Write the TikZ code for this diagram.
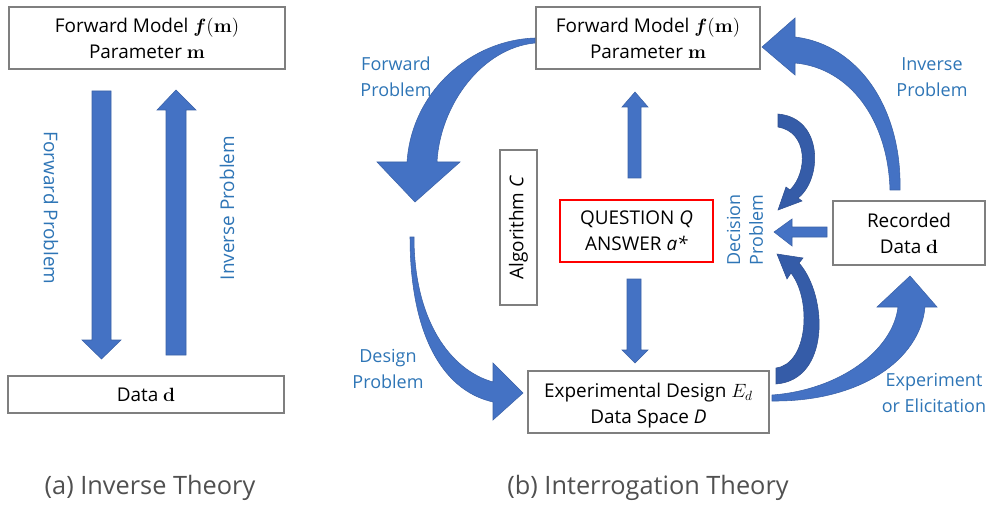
\documentclass[tikz,border=0pt]{standalone}
\usepackage{amsmath}
\usepackage[no-math]{fontspec}
\setmainfont{Open Sans}
\usetikzlibrary{fit}
\definecolor{arrowblue}{HTML}{4472C4}
\definecolor{arrowdark}{HTML}{355CA8}
\definecolor{labelblue}{HTML}{2E75B6}
\definecolor{boxgray}{HTML}{7F7F7F}
\definecolor{capgray}{HTML}{505050}
\begin{document}
\begin{tikzpicture}[x=0.75pt,y=-0.75pt,
  box/.style={draw=boxgray, line width=1.9pt, inner sep=0pt, fill=white},
  redbox/.style={draw=red, line width=1.9pt, inner sep=0pt},
  boxtext/.style={align=center, inner sep=0pt, font=\fontsize{14.2}{19.5}\selectfont},
  lbl/.style={text=labelblue, align=center, font=\fontsize{13.5}{19.5}\selectfont},
  sidelbl/.style={text=labelblue, font=\fontsize{14.2}{19.5}\selectfont},
  captext/.style={text=capgray, font=\fontsize{19}{22}\selectfont},
  blockarrow/.style={fill=arrowblue, draw=arrowblue!85!black, line width=0.4pt},
  darkarrow/.style={fill=arrowdark, draw=arrowdark!85!black, line width=0.4pt}]
\useasboundingbox (0,0) rectangle (992,506);

% ---------- (a) Inverse Theory ----------
\node[box, fit={(9,7) (285,69)}] (lfm) {};
\node[boxtext] (lfmtxt) at ([yshift=-0.5pt]lfm.center) {Forward Model $\boldsymbol{f}(\mathbf{m})$\\Parameter $\mathbf{m}$};
\node[box, fit={(8,376) (284,413)}] (ldata) {};
\node[boxtext] (ldatatxt) at (ldata.center) {Data $\mathbf{d}$};

\draw[blockarrow] (92,91) -- (111,91) -- (111,340) -- (121,340) -- (101.5,359) -- (82,340) -- (92,340) -- cycle;
\draw[blockarrow] (166,355) -- (186,355) -- (186,110) -- (196,110) -- (176,90) -- (157,110) -- (166,110) -- cycle;

\node[sidelbl, rotate=-90] (lfp) at (51,208) {Forward Problem};
\node[sidelbl, rotate=90] (lip) at (227,208) {Inverse Problem};

\node[captext] (capa) at (150,488) {(a) Inverse Theory};

% ---------- (b) Interrogation Theory ----------
\node[box, fit={(536,7) (760,69)}] (rfm) {};
\node[boxtext] (rfmtxt) at ([yshift=-0.5pt]rfm.center) {Forward Model $\boldsymbol{f}(\mathbf{m})$\\Parameter $\mathbf{m}$};
\node[box, fit={(500,150) (537,305)}] (alg) {};
\node[boxtext, rotate=90] (algtxt) at (alg.center) {Algorithm \textit{C}};
\node[redbox, fit={(560,200) (713,262)}] (qa) {};
\node[boxtext] (qatxt) at (qa.center) {QUESTION \textit{Q}\\ANSWER \textit{a*}};
\node[box, fit={(528,371) (769,433)}] (exp) {};
\node[boxtext] (exptxt) at ([yshift=-3pt]exp.center) {Experimental Design $E_d$\\Data Space \textit{D}};
\node[box, fit={(833,201) (985,265)}] (rec) {};
\node[boxtext] (rectxt) at (rec.center) {Recorded\\Data $\mathbf{d}$};

% straight arrows
\draw[blockarrow] (628,178) -- (641,178) -- (641,107) -- (648,107) -- (635,92) -- (622,107) -- (628,107) -- cycle;
\draw[blockarrow] (627,279) -- (641,279) -- (641,350) -- (648,350) -- (635,363) -- (622,350) -- (627,350) -- cycle;
\draw[blockarrow] (827,227) -- (827,237) -- (792,237) -- (792,246) -- (774,232) -- (792,219) -- (792,227) -- cycle;

% Forward problem curved arrow
\draw[blockarrow] (535,38) .. controls (472,40) and (412,90) .. (407,162) -- (377,162) -- (415,202) -- (460,162) -- (437,162)
   .. controls (440,105) and (482,48) .. (535,43) -- cycle;
% Design problem curved arrow
\draw[blockarrow] (410,237) .. controls (410,330) and (440,390) .. (493,402) -- (493,420) -- (523,393) -- (493,363) -- (493,382)
   .. controls (450,370) and (414,320) .. (414,237) -- cycle;
% Inverse problem curved arrow
\draw[blockarrow] (890,190) .. controls (888,120) and (850,68) .. (795,63) -- (795,75) -- (762,47) -- (795,18) -- (795,37)
   .. controls (860,45) and (902,110) .. (900,190) -- cycle;
% Experiment curved arrow
\draw[blockarrow] (772,395) .. controls (840,390) and (893,350) .. (898,307) -- (877,307) -- (910,276) -- (937,307) -- (925,307)
   .. controls (920,360) and (860,402) .. (772,401) -- cycle;
% Decision arrows (crescents)
\draw[darkarrow] (778,114) .. controls (824,118) and (822,180) .. (798,198) -- (802,201) -- (778,210) -- (786,187) -- (790,190)
   .. controls (808,172) and (808,132) .. (778,127) -- cycle;
\draw[darkarrow] (776,384) .. controls (830,380) and (828,296) .. (799,263) -- (803,258) -- (777,254) -- (787,279) -- (791,273)
   .. controls (812,300) and (808,364) .. (776,368) -- cycle;

% labels
\node[lbl] (lfwd) at (396,77) {Forward\\Problem};
\node[lbl] (linv) at (932,77) {Inverse\\Problem};
\node[lbl] (ldes) at (388,369) {Design\\Problem};
\node[lbl] (lexp) at (934,393) {Experiment\\or Elicitation};
\node[lbl, rotate=90, font=\fontsize{13.5}{17}\selectfont] (ldec) at (745,230) {Decision\\Problem};

\node[captext] (capb) at (648,488) {(b) Interrogation Theory};
\end{tikzpicture}
\end{document}
